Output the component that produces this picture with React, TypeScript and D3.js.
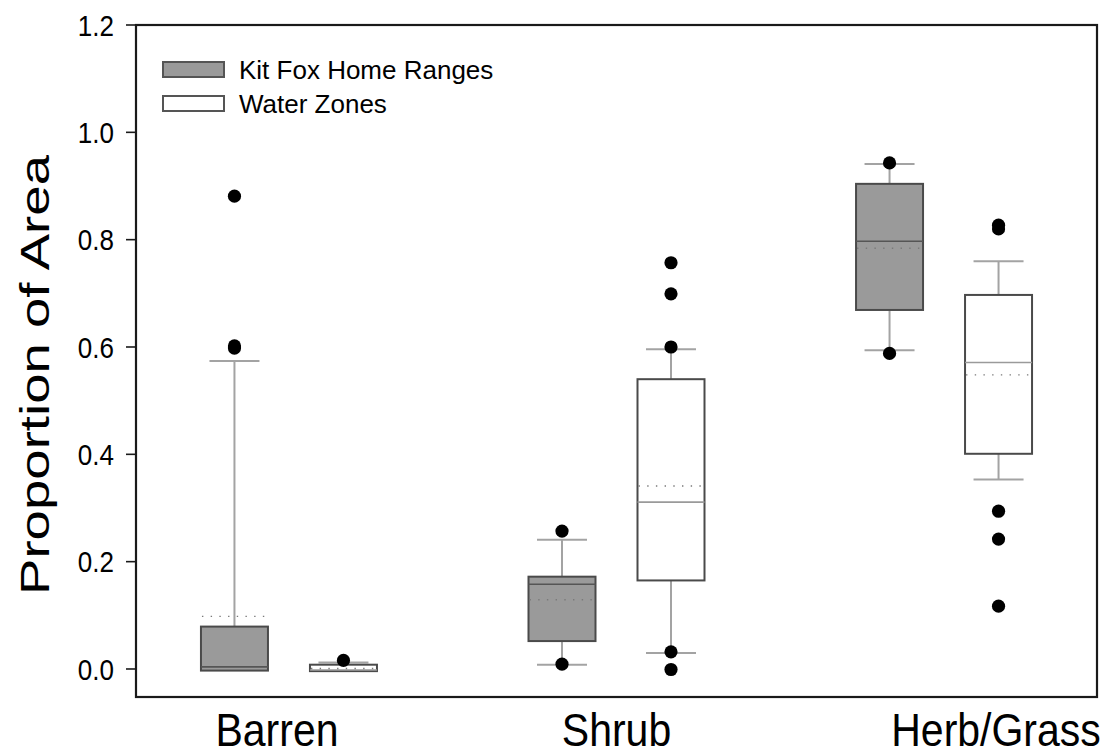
import React from "react";
import * as d3 from "d3";

// Land-cover categories and the two groups compared within each.
const categories = ["Barren", "Shrub", "Herb/Grass"];
const seriesNames = ["Kit Fox Home Ranges", "Water Zones"];
const yTicks = [0.0, 0.2, 0.4, 0.6, 0.8, 1.0, 1.2];

// Box summaries per category: [lower whisker, Q1, median, Q3, upper whisker, mean]
const kitFoxStats = [
  [-0.003, -0.003, 0.004, 0.079, 0.574, 0.098],
  [0.008, 0.052, 0.158, 0.172, 0.241, 0.129],
  [0.594, 0.669, 0.797, 0.904, 0.941, 0.784],
];
const waterZoneStats = [
  [-0.004, -0.004, -0.002, 0.008, 0.012, 0.001],
  [0.03, 0.165, 0.311, 0.54, 0.596, 0.341],
  [0.353, 0.401, 0.571, 0.697, 0.76, 0.548],
];

// Points beyond the whiskers
const kitFoxOutliers = [
  [0.598, 0.602, 0.881],
  [0.009, 0.257],
  [0.588, 0.943],
];
const waterZoneOutliers = [
  [0.016],
  [-0.001, 0.032, 0.6, 0.699, 0.757],
  [0.117, 0.242, 0.294, 0.82, 0.827],
];

const W = 1120;
const H = 756;
const plot = { left: 136, right: 1097, top: 25, bottom: 697 };
const FONT = "Arial, 'Liberation Sans', Helvetica, sans-serif";
// Text in this figure is drawn slightly taller than wide
const STRETCH = 1.13;

const x = d3
  .scalePoint<string>()
  .domain(categories)
  .range([plot.left, plot.right])
  .padding(0.467);

const y = d3
  .scaleLinear()
  .domain([-0.0522, 1.2])
  .range([plot.bottom, plot.top]);

const boxW = 67;
const capW = 50;
const groupOffset = 54.5;

const styles = [
  { fill: "#9a9a9a", median: "#555555" },
  { fill: "#ffffff", median: "#9a9a9a" },
];

// Small horizontal nudges for the category captions
const captionShift: Record<string, number> = { Barren: -12, Shrub: 0, "Herb/Grass": 52 };

function BoxPlot({ cx, stats, outliers, style }: any) {
  const [lo, q1, med, q3, hi, mean] = stats;
  const left = cx - boxW / 2;
  return (
    <g>
      {/* whiskers */}
      {hi > q3 && (
        <g stroke="#a3a3a3" strokeWidth={2}>
          <line x1={cx} x2={cx} y1={y(q3)} y2={y(hi)} />
          <line x1={cx - capW / 2} x2={cx + capW / 2} y1={y(hi)} y2={y(hi)} />
        </g>
      )}
      {lo < q1 && (
        <g stroke="#a3a3a3" strokeWidth={2}>
          <line x1={cx} x2={cx} y1={y(q1)} y2={y(lo)} />
          <line x1={cx - capW / 2} x2={cx + capW / 2} y1={y(lo)} y2={y(lo)} />
        </g>
      )}
      <rect
        x={left}
        y={y(q3)}
        width={boxW}
        height={y(q1) - y(q3)}
        fill={style.fill}
        stroke="#4a4a4a"
        strokeWidth={2}
      />
      <line x1={left} x2={left + boxW} y1={y(med)} y2={y(med)} stroke={style.median} strokeWidth={1.6} />
      <line
        x1={left + 1}
        x2={left + boxW}
        y1={y(mean)}
        y2={y(mean)}
        stroke="#7a7a7a"
        strokeWidth={1.4}
        strokeDasharray="1.4 7.3"
      />
      {outliers.map((v: number, i: number) => (
        <circle key={i} cx={cx} cy={y(v)} r={6.6} fill="#000" />
      ))}
    </g>
  );
}

export default function App() {
  const statSets = [kitFoxStats, waterZoneStats];
  const outlierSets = [kitFoxOutliers, waterZoneOutliers];
  return (
    <div style={{ position: "absolute", left: 0, top: 0 }}>
      <svg width={W} height={H} style={{ display: "block", background: "#fff" }} fontFamily={FONT}>
        <rect x={0} y={0} width={W} height={H} fill="#fff" />
        {/* boxes */}
        {categories.map((c, ci) =>
          seriesNames.map((s, si) => (
            <BoxPlot
              key={c + s}
              cx={(x(c) as number) + (si === 0 ? -groupOffset : groupOffset)}
              stats={statSets[si][ci]}
              outliers={outlierSets[si][ci]}
              style={styles[si]}
            />
          ))
        )}
        {/* frame */}
        <rect
          x={plot.left}
          y={plot.top}
          width={plot.right - plot.left}
          height={plot.bottom - plot.top}
          fill="none"
          stroke="#1a1a1a"
          strokeWidth={2.2}
        />
        {/* y axis ticks and labels */}
        {yTicks.map((t) => (
          <g key={t}>
            <line x1={plot.left - 10} x2={plot.left} y1={y(t)} y2={y(t)} stroke="#1a1a1a" strokeWidth={1.6} />
            <text
              transform={`translate(114,${y(t)}) scale(1,${STRETCH})`}
              dy="0.36em"
              textAnchor="end"
              fontSize={26}
              fill="#000"
            >
              {d3.format(".1f")(t)}
            </text>
          </g>
        ))}
        <text
          transform={`translate(49,375) rotate(-90)`}
          textAnchor="middle"
          fontSize={41}
          textLength={440}
          lengthAdjust="spacingAndGlyphs"
          fill="#000"
        >
          Proportion of Area
        </text>
        {/* category captions */}
        {categories.map((c) => (
          <text
            key={c}
            transform={`translate(${(x(c) as number) + captionShift[c]},746) scale(1,${STRETCH})`}
            textAnchor="middle"
            fontSize={41}
            fill="#000"
          >
            {c}
          </text>
        ))}
        {/* legend */}
        {seriesNames.map((s, i) => (
          <g key={s} transform={`translate(163,${62 + i * 34})`}>
            <rect x={0} y={0} width={61} height={15} fill={styles[i].fill} stroke="#555" strokeWidth={2} />
            <text x={76} y={7.5} dy="0.36em" fontSize={26} fill="#000">
              {s}
            </text>
          </g>
        ))}
      </svg>
    </div>
  );
}
